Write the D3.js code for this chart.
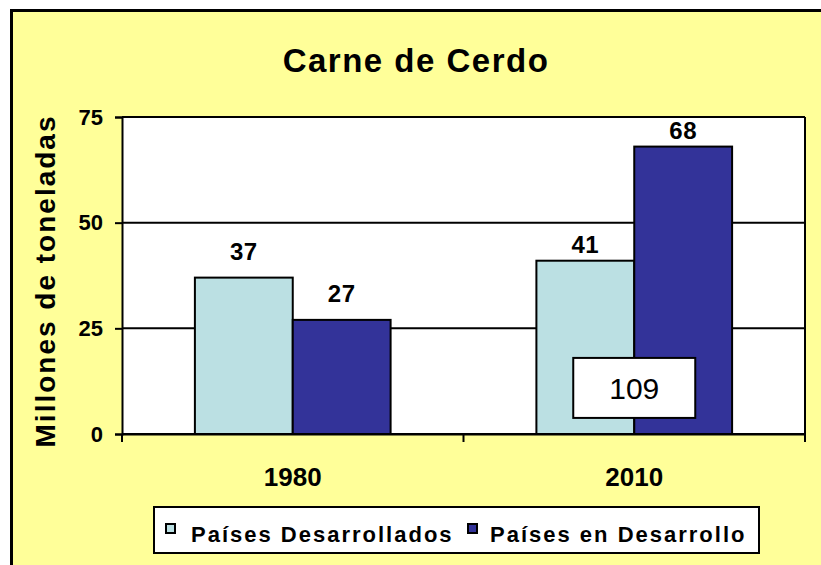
<!DOCTYPE html>
<html>
<head>
<meta charset="utf-8">
<script src="https://cdn.jsdelivr.net/npm/d3@7"></script>
<style>
body { margin: 0; background: #fff; }
svg { display: block; font-family: "Liberation Sans", Arial, sans-serif; }
</style>
</head>
<body>
<div id="chart"></div>
<script>
var width = 821,
height = 565

var years = ["1980", "2010"]
var series = ["Países Desarrollados", "Países en Desarrollo"]
var desarrollados = [37, 41]
var enDesarrollo = [27, 68]
var yTicks = [0, 25, 50, 75]
var totalLabel = "109"
var colors = ["#BBE0E3", "#333399"]

var svg = d3.select("#chart").append("svg")
.attr("width", width)
.attr("height", height)

// outer yellow frame
svg.append("rect")
.attr("x", 11.5)
.attr("y", 10.5)
.attr("width", width + 10)
.attr("height", height + 10)
.attr("fill", "#FFFF99")
.attr("stroke", "#000")
.attr("stroke-width", 3)

var plot = {left: 122, right: 805, top: 117, bottom: 434}

var x0 = d3.scaleBand()
.domain(years)
.range([plot.left, plot.right])

var x1 = d3.scaleBand()
.domain(d3.range(series.length))
.range([0, x0.bandwidth()])
.paddingOuter(0.745)
.paddingInner(0)

var y = d3.scaleLinear()
.domain([0, 75])
.range([plot.bottom, plot.top])

svg.append("text")
.attr("x", 416)
.attr("y", 72)
.attr("text-anchor", "middle")
.style("font-size", "33px")
.style("font-weight", "bold")
.style("letter-spacing", "1.5px")
.text("Carne de Cerdo")

svg.append("rect")
.attr("x", plot.left)
.attr("y", plot.top)
.attr("width", plot.right - plot.left)
.attr("height", plot.bottom - plot.top)
.attr("fill", "#fff")

// gridlines
svg.selectAll(".grid")
.data(yTicks)
.enter()
.append("line")
.attr("class", "grid")
.attr("x1", plot.left)
.attr("x2", plot.right)
.attr("y1", function(d){ return y(d)})
.attr("y2", function(d){ return y(d)})
.attr("stroke", "#000")
.attr("stroke-width", 2)

svg.append("line")
.attr("x1", plot.right)
.attr("x2", plot.right)
.attr("y1", plot.top)
.attr("y2", plot.bottom)
.attr("stroke", "#000")
.attr("stroke-width", 2)

var rows = years.map(function(yr, i){ return [desarrollados[i], enDesarrollo[i]] })

var groups = svg.selectAll(".year")
.data(rows)
.enter()
.append("g")
.attr("class", "year")
.attr("transform", function(d, i){ return "translate(" + x0(years[i]) + ",0)"})

groups.selectAll("rect")
.data(function(d){ return d })
.enter()
.append("rect")
.attr("x", function(d, i){ return x1(i)})
.attr("y", function(d){ return y(d)})
.attr("width", x1.bandwidth())
.attr("height", function(d){ return y(0) - y(d)})
.attr("fill", function(d, i){ return colors[i]})
.attr("stroke", "#000")
.attr("stroke-width", 2)

// label gap differs a bit between the two years in the original
groups.each(function(row, g){
  d3.select(this).selectAll(".val")
  .data(row)
  .enter()
  .append("text")
  .attr("class", "val")
  .attr("x", function(d, i){ return x1(i) + x1.bandwidth() / 2})
  .attr("y", function(d){ return y(d) - (g == 0 ? 18 : 8)})
  .attr("text-anchor", "middle")
  .style("font-size", "24px")
  .style("font-weight", "bold")
  .style("letter-spacing", "0.5px")
  .text(function(d){ return d })
})

// y axis
var yAxis = svg.append("g")
.attr("transform", "translate(" + plot.left + ",0)")
.call(d3.axisLeft(y).tickValues(yTicks).tickSize(7).tickPadding(12))

yAxis.select(".domain").attr("stroke", "#000").attr("stroke-width", 2)
yAxis.selectAll(".tick line").attr("stroke", "#000").attr("stroke-width", 2)
yAxis.selectAll(".tick text")
.attr("fill", "#000")
.style("font-size", "22px")
.style("font-weight", "bold")
.style("font-family", "Liberation Sans, Arial, sans-serif")

// x axis
var xAxis = svg.append("g")
.attr("transform", "translate(0," + plot.bottom + ")")
.call(d3.axisBottom(x0).tickSize(0).tickPadding(34))

xAxis.select(".domain").attr("stroke", "#000").attr("stroke-width", 2)
xAxis.selectAll(".tick text")
.attr("fill", "#000")
.style("font-size", "26px")
.style("font-weight", "bold")
.style("font-family", "Liberation Sans, Arial, sans-serif")

svg.selectAll(".xtick")
.data([plot.left, x0(years[1]), plot.right])
.enter()
.append("line")
.attr("x1", function(d){ return d})
.attr("x2", function(d){ return d})
.attr("y1", plot.bottom)
.attr("y2", plot.bottom + 8)
.attr("stroke", "#000")
.attr("stroke-width", 2)

svg.append("text")
.attr("transform", "translate(55,281) rotate(-90)")
.attr("text-anchor", "middle")
.style("font-size", "28px")
.style("font-weight", "bold")
.style("letter-spacing", "2px")
.text("Millones de toneladas")

// total box for 2010
var boxX = x0(years[1]) + x0.bandwidth() / 2
svg.append("rect")
.attr("x", boxX - 61)
.attr("y", y(18))
.attr("width", 122)
.attr("height", 60)
.attr("fill", "#fff")
.attr("stroke", "#000")
.attr("stroke-width", 2)

svg.append("text")
.attr("x", boxX)
.attr("y", y(18) + 41)
.attr("text-anchor", "middle")
.style("font-size", "30px")
.text(totalLabel)

// legend
svg.append("rect")
.attr("x", 154)
.attr("y", 507)
.attr("width", 605)
.attr("height", 46)
.attr("fill", "#fff")
.attr("stroke", "#000")
.attr("stroke-width", 2)

var legendX = [166, 468]
var li = svg.selectAll(".leg")
.data(series)
.enter()
.append("g")
.attr("class", "leg")
.attr("transform", function(d, i){ return "translate(" + legendX[i] + ",524)"})

li.append("rect")
.attr("width", 9)
.attr("height", 9)
.attr("fill", function(d, i){ return colors[i]})
.attr("stroke", "#000")
.attr("stroke-width", 2)

li.append("text")
.attr("x", function(d, i){ return i == 0 ? 25 : 22})
.attr("y", 18)
.style("font-size", "22px")
.style("font-weight", "bold")
.style("letter-spacing", "2px")
.text(function(d){ return d })
</script>
</body>
</html>
